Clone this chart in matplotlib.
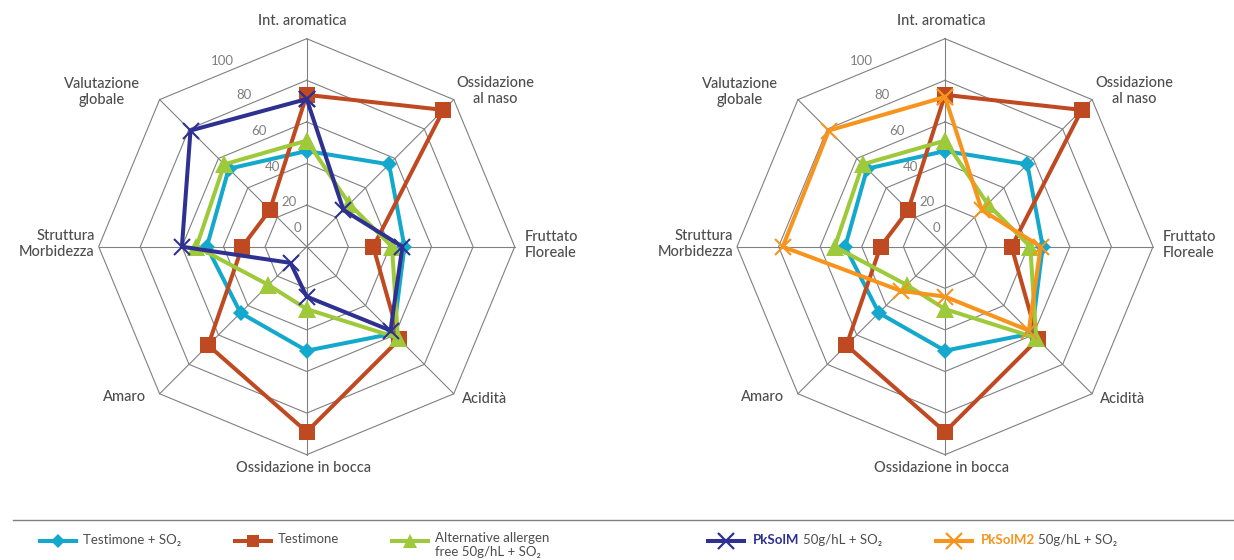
import numpy as np
import matplotlib.pyplot as plt
from matplotlib.lines import Line2D
from matplotlib.transforms import offset_copy

plt.rcParams['font.family'] = ['Lato', 'DejaVu Sans']

# categories, clockwise from the top
categories = ["Int. aromatica", "Ossidazione\nal naso", "Fruttato\nFloreale", "Acidità",
              "Ossidazione in bocca", "Amaro", "Struttura\nMorbidezza", "Valutazione\nglobale"]
ticks = [0, 20, 40, 60, 80, 100]

# values
testimone_so2 = [46, 56, 47, 59, 50, 45, 48, 53]
testimone = [73, 93, 32, 63, 89, 67, 31, 25]
alternative = [51, 29, 41, 62, 30, 26, 53, 56]
pksolm = [71, 25, 46, 57, 24, 11, 60, 79]
pksolm2 = [72, 25, 46, 57, 24, 30, 78, 79]

CYAN = '#13a8cc'
RED = '#bf4a22'
GREEN = '#9dc93a'
NAVY = '#2e3192'
ORANGE = '#f7941d'
GRID = '#808080'
TEXT = '#4d4d4d'

W, H = 1234, 560
R = 208  # outer radius in px

# text offsets (px) from the chart centre, y measured downwards
label_pos = [(-4, -226, 'center'), (189, -156, 'center'), (218, -2, 'left'),
             (178, 152, 'center'), (-3, 221, 'center'), (-182, 150, 'center'),
             (-212, -3, 'right'), (-205, -155, 'center')]
tick_off = [(-9, 19), (-18, 3), (-34, -4), (-48, -9), (-63, -15), (-84, -22)]


def fx(x):
    return x / W


def fy(y):
    return 1 - y / H


def draw_radar(fig, cx, cy, series):
    ax = fig.add_axes([fx(cx - R), fy(cy + R), 2 * R / W, 2 * R / H], projection='polar')
    ax.set_theta_zero_location('N')
    ax.set_theta_direction(-1)
    ax.set_ylim(0, 100)
    ax.grid(False)
    ax.set_xticks([])
    ax.set_yticks([])
    ax.spines['polar'].set_visible(False)
    ax.patch.set_alpha(0)

    angles = np.linspace(0, 2 * np.pi, len(categories), endpoint=False)
    closed = np.append(angles, angles[0])

    for t in ticks[1:]:
        ax.plot(closed, [t] * len(closed), color=GRID, lw=0.8, zorder=1, clip_on=False)
    for a in angles:
        ax.plot([a, a], [0, 100], color=GRID, lw=0.8, zorder=1, clip_on=False)

    for t, (dx, dy) in zip(ticks, tick_off):
        ax.text(0, t, str(t), transform=offset_copy(ax.transData, fig=fig, x=dx, y=dy, units='dots'),
                ha='center', va='center', fontsize=9.5, color='#7f7f7f', zorder=2)

    for lab, (dx, dy, ha) in zip(categories, label_pos):
        ax.text(0, 0, lab, transform=offset_copy(ax.transData, fig=fig, x=dx, y=-dy, units='dots'),
                ha=ha, va='center', multialignment=ha, fontsize=10.5, color=TEXT,
                linespacing=1.15, fontweight='medium')

    for vals, color, marker, ms, mew in series:
        ax.plot(closed, list(vals) + [vals[0]], color=color, lw=2.9, marker=marker, ms=ms,
                mew=mew, mec=color, mfc=color, clip_on=False, zorder=3)
    return ax


fig = plt.figure(figsize=(W / 100, H / 100), dpi=100)

base = [(testimone_so2, CYAN, 'D', 8.5, 0),
        (testimone, RED, 's', 12, 0),
        (alternative, GREEN, '^', 13, 0)]
draw_radar(fig, 306.7, 246.7, base + [(pksolm, NAVY, 'x', 11, 1.5)])
draw_radar(fig, 945, 246.7, base + [(pksolm2, ORANGE, 'x', 11, 1.5)])

# legend
fig.add_artist(Line2D([fx(13), fx(1234)], [fy(520), fy(520)], color=GRID, lw=1))

leg_items = [(40, CYAN, 'D', 7, 0), (235, RED, 's', 9, 0), (392, GREEN, '^', 10, 0),
             (708, NAVY, 'x', 11, 1.6), (936, ORANGE, 'x', 11, 1.6)]
for x0, color, marker, ms, mew in leg_items:
    fig.add_artist(Line2D([fx(x0), fx(x0 + 36)], [fy(541), fy(541)], color=color, lw=2.9))
    fig.add_artist(Line2D([fx(x0 + 18)], [fy(541)], color=color, marker=marker, ms=ms,
                          mew=mew, mec=color, mfc=color))

lfs = 9.5
fig.text(fx(83), fy(540), "Testimone + SO₂", fontsize=lfs, color=TEXT, va='center')
fig.text(fx(278), fy(539), "Testimone", fontsize=lfs, color=TEXT, va='center')
fig.text(fx(435), fy(545), "Alternative allergen\nfree 50g/hL + SO₂", fontsize=lfs, color=TEXT,
         va='center', linespacing=1.1)
fig.text(fx(753), fy(540), "PkSolM", fontsize=lfs, color=NAVY, va='center', fontweight='bold')
fig.text(fx(803), fy(540), "50g/hL + SO₂", fontsize=lfs, color=TEXT, va='center')
fig.text(fx(981), fy(540), "PkSolM2", fontsize=lfs, color=ORANGE, va='center', fontweight='bold')
fig.text(fx(1038), fy(540), "50g/hL + SO₂", fontsize=lfs, color=TEXT, va='center')

fig.savefig('out.png', dpi=100)
